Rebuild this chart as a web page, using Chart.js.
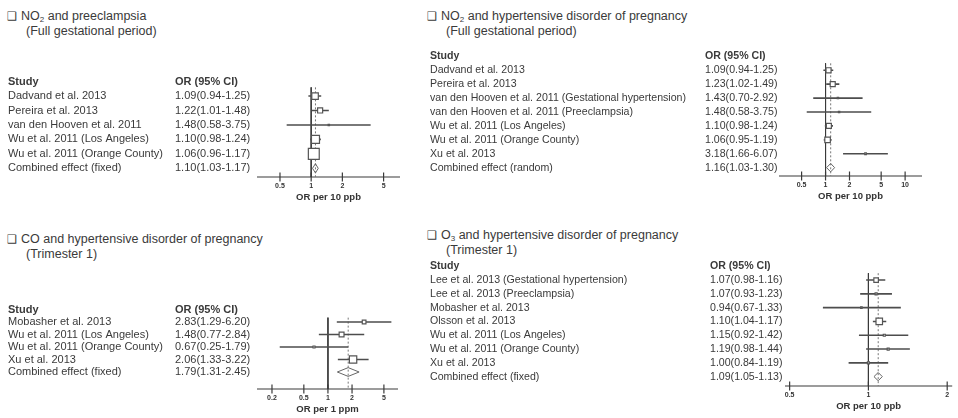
<!DOCTYPE html>
<html lang="en">

<head>
  <meta charset="UTF-8" />
  <meta name="viewport" content="width=device-width, initial-scale=1.0" />
  <title>Air pollution and hypertensive disorders of pregnancy</title>
  <script src="https://cdn.jsdelivr.net/npm/chart.js"></script>
  <style>
    body { margin: 0; background: #fff; }
    .pagina { position: relative; width: 958px; height: 418px; overflow: hidden; font-family: "Liberation Sans", Arial, sans-serif; color: #3a3a3a; }
    .titulo { position: absolute; font-size: 12.5px; line-height: 15px; white-space: nowrap; }
    .caixa { display: inline-block; width: 14px; font-family: "DejaVu Sans"; font-size: 11.5px; }
    .recuo { padding-left: 19px; }
    sub { font-size: 8px; line-height: 0; vertical-align: -2px; }
    canvas { position: absolute; }
  </style>
</head>

<body>
  <div class="pagina">
    <div class="titulo" style="left: 7px; top: 9px">
      <span class="caixa">❑</span>NO<sub>2</sub> and preeclampsia<br />
      <span class="recuo">(Full gestational period)</span>
    </div>
    <div class="titulo" style="left: 427px; top: 9px">
      <span class="caixa">❑</span>NO<sub>2</sub> and hypertensive disorder of pregnancy<br />
      <span class="recuo">(Full gestational period)</span>
    </div>
    <div class="titulo" style="left: 7px; top: 232px">
      <span class="caixa">❑</span>CO and hypertensive disorder of pregnancy<br />
      <span class="recuo">(Trimester 1)</span>
    </div>
    <div class="titulo" style="left: 427px; top: 228px">
      <span class="caixa">❑</span>O<sub>3</sub> and hypertensive disorder of pregnancy<br />
      <span class="recuo">(Trimester 1)</span>
    </div>

    <canvas id="canvas_no2_pe" width="410" height="139" style="left: 0px; top: 64px"></canvas>
    <canvas id="canvas_no2_hdp" width="514" height="162" style="left: 420px; top: 40px"></canvas>
    <canvas id="canvas_co_hdp" width="410" height="121" style="left: 0px; top: 294px"></canvas>
    <canvas id="canvas_o3_hdp" width="538" height="162" style="left: 420px; top: 250px"></canvas>
  </div>
</body>

</html>
<script>

  // NO2 e pre-eclampsia (periodo gestacional completo)
  var studies_no2_pe = ["Dadvand et al. 2013", "Pereira et al. 2013", "van den Hooven et al. 2011",
    "Wu et al. 2011 (Los Angeles)", "Wu et al. 2011 (Orange County)", "Combined effect (fixed)"];
  var or_no2_pe = [1.09, 1.22, 1.48, 1.10, 1.06, 1.10];
  var low_no2_pe = [0.94, 1.01, 0.58, 0.98, 0.96, 1.03];
  var high_no2_pe = [1.25, 1.48, 3.75, 1.24, 1.17, 1.17];
  var weight_no2_pe = [25, 15, 1, 38, 70];
  var ticks_no2_pe = [0.5, 1, 2, 5];

  // NO2 e doenca hipertensiva (periodo gestacional completo)
  var studies_no2_hdp = ["Dadvand et al. 2013", "Pereira et al. 2013",
    "van den Hooven et al. 2011 (Gestational hypertension)", "van den Hooven et al. 2011 (Preeclampsia)",
    "Wu et al. 2011 (Los Angeles)", "Wu et al. 2011 (Orange County)", "Xu et al. 2013", "Combined effect (random)"];
  var or_no2_hdp = [1.09, 1.23, 1.43, 1.48, 1.10, 1.06, 3.18, 1.16];
  var low_no2_hdp = [0.94, 1.02, 0.70, 0.58, 0.98, 0.95, 1.66, 1.03];
  var high_no2_hdp = [1.25, 1.49, 2.92, 3.75, 1.24, 1.19, 6.07, 1.30];
  var weight_no2_hdp = [15, 15, 1, 1, 15, 18, 1.5];
  var ticks_no2_hdp = [0.5, 1, 2, 5, 10];

  // CO e doenca hipertensiva (trimestre 1)
  var studies_co_hdp = ["Mobasher et al. 2013", "Wu et al. 2011 (Los Angeles)", "Wu et al. 2011 (Orange County)",
    "Xu et al. 2013", "Combined effect (fixed)"];
  var or_co_hdp = [2.83, 1.48, 0.67, 2.06, 1.79];
  var low_co_hdp = [1.29, 0.77, 0.25, 1.33, 1.31];
  var high_co_hdp = [6.20, 2.84, 1.79, 3.22, 2.45];
  var weight_co_hdp = [8, 14, 2.4, 32];
  var ticks_co_hdp = [0.2, 0.5, 1, 2, 5];

  // O3 e doenca hipertensiva (trimestre 1)
  var studies_o3_hdp = ["Lee et al. 2013 (Gestational hypertension)", "Lee et al. 2013 (Preeclampsia)",
    "Mobasher et al. 2013", "Olsson et al. 2013", "Wu et al. 2011 (Los Angeles)", "Wu et al. 2011 (Orange County)",
    "Xu et al. 2013", "Combined effect (fixed)"];
  var or_o3_hdp = [1.07, 1.07, 0.94, 1.10, 1.15, 1.19, 1.00, 1.09];
  var low_o3_hdp = [0.98, 0.93, 0.67, 1.04, 0.92, 0.98, 0.84, 1.05];
  var high_o3_hdp = [1.16, 1.23, 1.33, 1.17, 1.42, 1.44, 1.19, 1.13];
  var weight_o3_hdp = [12, 2.4, 1.3, 25, 2.4, 2.4, 2.4];
  var ticks_o3_hdp = [0.5, 1, 2];

  function formatar_or(or, low, high) {
    return or.toFixed(2) + "(" + low.toFixed(2) + "-" + high.toFixed(2) + ")";
  }

  // eixo de texto (coluna de estudos ou coluna de OR), mesmo min/max do eixo dos dados
  function eixo_texto(labels, peso, largura, lay) {
    var normal = { family: "Liberation Sans", size: lay.fontSize };
    var negrito = { family: "Liberation Sans", size: lay.fontSize, weight: "bold" };
    return {
      type: "linear",
      axis: "y",
      position: "left",
      weight: peso,
      reverse: true,
      min: lay.yMin,
      max: lay.yMax,
      grid: { display: false, drawTicks: false },
      border: { display: false },
      afterBuildTicks: function (scale) {
        scale.ticks = labels.map(function (l, i) { return { value: i - 1 }; });
      },
      afterFit: function (scale) { scale.width = largura; },
      ticks: {
        autoSkip: false,
        crossAlign: "far",
        padding: 0,
        color: "#3a3a3a",
        font: function (ctx) { return ctx.index === 0 ? negrito : normal; },
        callback: function (value, index) { return labels[index]; },
      },
    };
  }

  function criar_forest(id, studies, or, low, high, weight, ticks, lay) {
    var c = studies.length - 1;

    var labels_study = ["Study"].concat(studies);
    var labels_or = ["OR (95% CI)"].concat(or.map(function (v, i) { return formatar_or(v, low[i], high[i]); }));

    // intervalos de confianca: segmentos separados por pontos nulos
    var ci = [];
    var caixas = [];
    for (var i = 0; i < c; i++) {
      ci.push({ x: low[i], y: i }, { x: high[i], y: i }, { x: null, y: null });
      caixas.push({ x: or[i], y: i });
    }
    var raios = weight.map(function (w) { return 0.92 * Math.sqrt(w); });

    var losango = [
      { x: low[c], y: c },
      { x: or[c], y: c - lay.diamondH },
      { x: high[c], y: c },
      { x: or[c], y: c + lay.diamondH },
      { x: low[c], y: c },
    ];
    var linha_nula = [{ x: 1, y: lay.lineTop }, { x: 1, y: lay.yMax }];
    var linha_comb = [{ x: or[c], y: lay.lineTop }, { x: or[c], y: lay.yMax }];
    var linha_eixo = [{ x: lay.xMin, y: lay.yMax }, { x: lay.xMax, y: lay.yMax }];
    var marcas = ticks.map(function (t) { return { x: t, y: lay.yMax }; });

    new Chart(document.getElementById(id), {
      type: "scatter",
      data: {
        datasets: [
          {
            type: "scatter", data: caixas,
            pointStyle: "rect", pointRadius: raios, pointBackgroundColor: "#fff",
            pointBorderColor: "#555", pointBorderWidth: 1.2,
          },
          {
            type: "line", data: losango,
            borderColor: "#666", borderWidth: 1, pointRadius: 0, fill: false, tension: 0,
          },
          {
            type: "line", data: ci, spanGaps: false,
            borderColor: "#4d4d4d", borderWidth: 1.6, pointRadius: 0, fill: false,
          },
          {
            type: "line", data: linha_comb,
            borderColor: "#777", borderWidth: 1, borderDash: [2, 2], pointRadius: 0,
          },
          {
            type: "line", data: linha_nula,
            borderColor: "#3a3a3a", borderWidth: 1, pointRadius: 0,
          },
          {
            type: "line", data: linha_eixo, clip: false,
            borderColor: "#3a3a3a", borderWidth: 1.2, pointRadius: 0,
          },
          {
            type: "scatter", data: marcas, clip: false,
            pointStyle: "line", rotation: 90, pointRadius: 4.5,
            pointBorderColor: "#3a3a3a", pointBorderWidth: 1.2,
          },
        ],
      },
      options: {
        responsive: false,
        animation: false,
        events: [],
        layout: { padding: { left: lay.padLeft, right: lay.padRight, top: 8, bottom: 0 } },
        plugins: { legend: { display: false }, tooltip: { enabled: false } },
        scales: {
          x: {
            type: "logarithmic",
            position: "bottom",
            min: lay.xMin,
            max: lay.xMax,
            grid: { display: false, drawTicks: false },
            border: { display: false },
            afterBuildTicks: function (scale) {
              scale.ticks = ticks.map(function (t) { return { value: t }; });
            },
            afterFit: function (scale) { scale.height = 26; },
            ticks: {
              autoSkip: false,
              maxRotation: 0,
              padding: 5,
              color: "#333",
              font: { family: "Liberation Sans", size: 7, weight: "bold" },
              callback: function (value) { return String(value); },
            },
            title: {
              display: true,
              text: lay.xTitle,
              padding: 0,
              color: "#333",
              font: { family: "Liberation Sans", size: 9.5, weight: "bold" },
            },
          },
          y: eixo_texto(labels_or, 1, lay.orW, lay),
          yStudy: eixo_texto(labels_study, 2, lay.studyW, lay),
        },
      },
    });
  }

  criar_forest("canvas_no2_pe", studies_no2_pe, or_no2_pe, low_no2_pe, high_no2_pe, weight_no2_pe, ticks_no2_pe, {
    padLeft: 8, padRight: 10, studyW: 167, orW: 82, yMin: -1.6, yMax: 5.6, fontSize: 11,
    xMin: 0.3, xMax: 7.2, lineTop: -0.6, diamondH: 0.32, xTitle: "OR per 10 ppb",
  });

  criar_forest("canvas_no2_hdp", studies_no2_hdp, or_no2_hdp, low_no2_hdp, high_no2_hdp, weight_no2_hdp, ticks_no2_hdp, {
    padLeft: 10, padRight: 12, studyW: 275, orW: 74, yMin: -1.6, yMax: 7.6, fontSize: 10.6,
    xMin: 0.26, xMax: 16.3, lineTop: -0.5, diamondH: 0.3, xTitle: "OR per 10 ppb",
  });

  criar_forest("canvas_co_hdp", studies_co_hdp, or_co_hdp, low_co_hdp, high_co_hdp, weight_co_hdp, ticks_co_hdp, {
    padLeft: 8, padRight: 12, studyW: 167, orW: 82, yMin: -1.6, yMax: 5.36, fontSize: 11,
    xMin: 0.13, xMax: 7.5, lineTop: -0.35, diamondH: 0.35, xTitle: "OR per 1 ppm",
  });

  criar_forest("canvas_o3_hdp", studies_o3_hdp, or_o3_hdp, low_o3_hdp, high_o3_hdp, weight_o3_hdp, ticks_o3_hdp, {
    padLeft: 10, padRight: 3, studyW: 280, orW: 75, yMin: -1.6, yMax: 7.68, fontSize: 10.6,
    xMin: 0.48, xMax: 2.09, lineTop: -0.5, diamondH: 0.3, xTitle: "OR per 10 ppb",
  });

</script>
